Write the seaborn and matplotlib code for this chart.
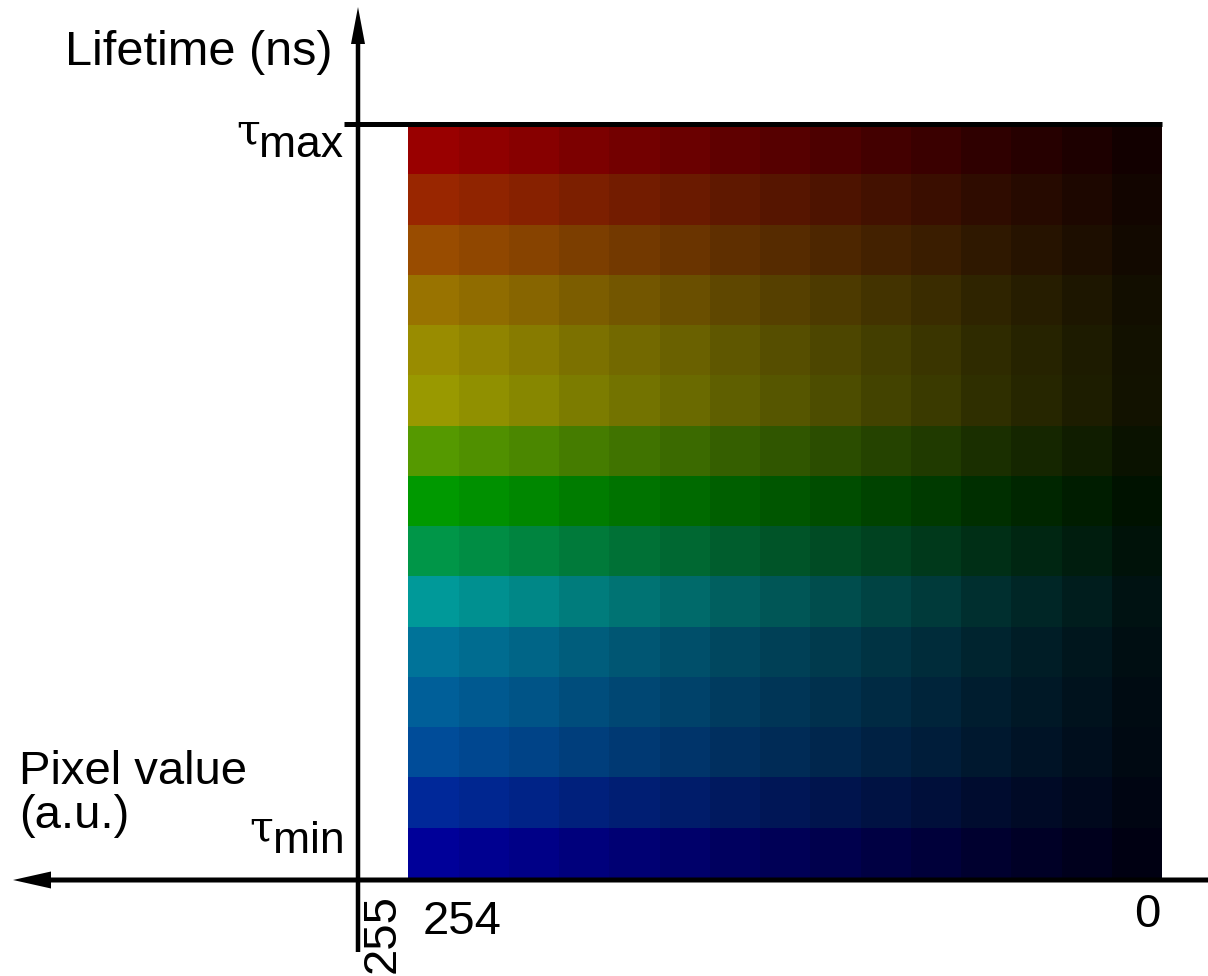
import numpy as np
import matplotlib
matplotlib.use("Agg")
import matplotlib.pyplot as plt
from matplotlib.colors import ListedColormap, to_rgb
import seaborn as sns

# lifetime bins, top (tau max) to bottom (tau min), colour at full pixel value
row_colors = ["#990000", "#992600", "#994c00", "#997300", "#998c00", "#999900",
              "#559900", "#009900", "#009648", "#009999", "#007399", "#005f99",
              "#004c99", "#002899", "#000099"]
# brightness of each pixel-value bin, 254 (left) down to 0 (right)
col_factors = [1.0, 0.94, 0.88, 0.81, 0.75, 0.69, 0.62, 0.56,
               0.50, 0.44, 0.38, 0.31, 0.25, 0.19, 0.12]
x_ticks = ["255", "254", "0"]
y_ticks = ["max", "min"]

sns.set_theme(style="white")
plt.rcParams["font.family"] = ["Liberation Sans", "DejaVu Sans"]
plt.rcParams["text.color"] = "black"

#1. colour table for the heatmap
colors = []
for c in row_colors:
    rgb = np.array(to_rgb(c))
    for f in col_factors:
        colors.append(tuple(rgb * f))
cmap = ListedColormap(colors)

n_rows, n_cols = len(row_colors), len(col_factors)
idx = np.arange(n_rows * n_cols, dtype=float).reshape(n_rows, n_cols)
# blank column for pixel value 255
grid = np.hstack([np.full((n_rows, 1), np.nan), idx])

W, H = 1208, 976
fig = plt.figure(figsize=(W / 100, H / 100), dpi=100)

#2. heatmap, placed in pixel units
x0, x1, y0, y1 = 358, 1162, 124, 878
ax = fig.add_axes([x0 / W, 1 - y1 / H, (x1 - x0) / W, (y1 - y0) / H])
sns.heatmap(grid, ax=ax, cmap=cmap, vmin=-0.5, vmax=n_rows * n_cols - 0.5,
            cbar=False, xticklabels=False, yticklabels=False, linewidths=0)
ax.set_xticks([])
ax.set_yticks([])

#3. overlay for axes arrows and labels
ov = fig.add_axes([0, 0, 1, 1])
ov.set_xlim(0, W)
ov.set_ylim(H, 0)
ov.set_axis_off()
ov.patch.set_alpha(0)

ov.arrow(358, 952, 0, 7 - 952, width=4.5, head_width=14, head_length=37,
         length_includes_head=True, fc="black", ec="none")
ov.arrow(W, 880, 13 - W, 0, width=5, head_width=17, head_length=38,
         length_includes_head=True, fc="black", ec="none")
ov.plot([344, 1162], [124, 124], color="black", lw=3.6, solid_capstyle="butt")

fs = 34
tau = dict(fontsize=31, family="DejaVu Serif", ha="right", va="baseline")
ov.text(65, 65, "Lifetime (ns)", fontsize=35, ha="left", va="baseline")
ov.text(260, 143, "τ", **tau)
ov.text(343, 157, y_ticks[0], fontsize=32, ha="right", va="baseline")
ov.text(273, 840, "τ", **tau)
ov.text(345, 853, y_ticks[1], fontsize=32, ha="right", va="baseline")
ov.text(19, 784, "Pixel value", fontsize=fs, ha="left", va="baseline")
ov.text(19, 828, "(a.u.)", fontsize=fs, ha="left", va="baseline")

ov.text(395, 973, x_ticks[0], fontsize=fs, rotation=90, rotation_mode="anchor",
        ha="left", va="baseline")
ov.text(423, 934, x_ticks[1], fontsize=fs, ha="left", va="baseline")
ov.text(1160, 927, x_ticks[2], fontsize=fs, ha="right", va="baseline")

fig.savefig("out.png", dpi=100)
